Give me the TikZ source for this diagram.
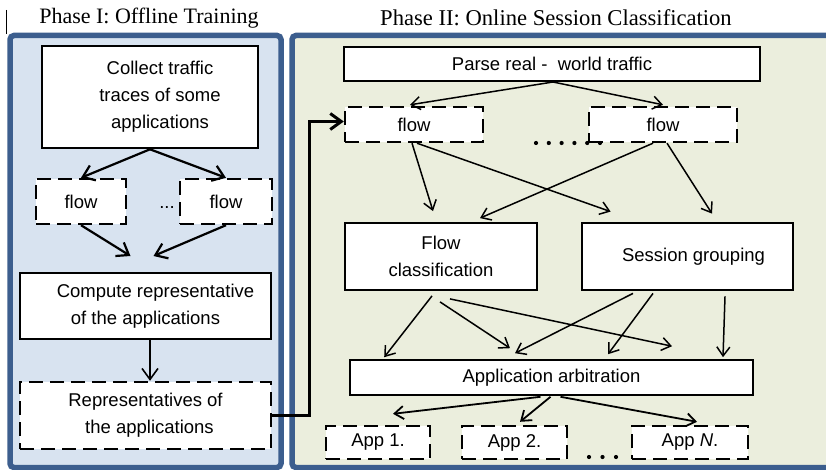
\documentclass[tikz,border=0pt]{standalone}
\usepackage{fontspec}
\setmainfont{Liberation Serif}
\setsansfont{Liberation Sans}
\usetikzlibrary{arrows.meta,calc}

\definecolor{panelblue}{HTML}{3C5E8E}
\definecolor{leftfill}{HTML}{D8E3F0}
\definecolor{rightfill}{HTML}{EBEEDD}

\tikzset{
  boxtext/.style={font=\sffamily\fontsize{18.5}{27}\selectfont, align=center, inner sep=0pt},
  solidbox/.style={boxtext, draw=black, fill=white, line width=2pt},
  dashbox/.style={boxtext, draw=black, fill=white, line width=2.4pt, dash pattern=on 14pt off 7pt},
  panel/.style={draw=panelblue, line width=5.5pt, rounded corners=4pt},
  title/.style={font=\rmfamily\fontsize{22}{26}\selectfont, inner sep=0pt},
  bigarrow/.style={line width=2.2pt, -{Straight Barb[length=11pt,width=16pt]}},
  thinarrow/.style={line width=1.5pt, -{Straight Barb[length=9pt,width=13pt]}},
}

\begin{document}
\begin{tikzpicture}[x=1pt,y=-1pt]
\useasboundingbox (0,0) rectangle (826,470);
\clip (0,0) rectangle (826,470);

% panels
\fill[white] (0,0) rectangle (826,470);
\draw[panel, fill=leftfill] (10,35.5) rectangle (281,467.5);
\draw[panel, fill=rightfill] (292,35.5) rectangle (840,467.5);
\draw[line width=1.2pt] (6.5,10) -- (6.5,34);

% titles
\node[title] (t1) at (149,18) {Phase I: Offline Training};
\node[title, font=\rmfamily\fontsize{22.6}{26}\selectfont] (t2) at (556,18) {Phase II: Online Session Classification};

% Phase I nodes
\node[solidbox, line width=2.6pt, minimum width=216, minimum height=102] (collect) at (150,97)
  {\hspace*{20pt}Collect traffic\\\hspace*{20pt}traces of some\\\hspace*{20pt}applications};
\node[dashbox, minimum width=90, minimum height=45] (fl1) at (81,201.5) {flow};
\node[dashbox, minimum width=92, minimum height=45] (fl2) at (226,201.5) {flow};
\node[boxtext] (ldots) at (167,208) {...};
\node[solidbox, minimum width=251, minimum height=66] (compute) at (145.5,306)
  {\hspace*{20pt}Compute representative\\of the applications};
\node[dashbox, minimum width=251, minimum height=67] (reps) at (145.5,415.5)
  {Representatives of\\\hspace*{8pt}the applications};

% Phase II nodes
\node[solidbox, minimum width=416, minimum height=34] (parse) at (552,64) {Parse real -\ \ world traffic};
\node[dashbox, minimum width=138, minimum height=35] (fr1) at (414,124.5) {flow};
\node[dashbox, minimum width=148, minimum height=35] (fr2) at (663,124.5) {flow};
\node[solidbox, line width=1.8pt, minimum width=192, minimum height=67] (fc) at (441,256.5)
  {Flow\\classification};
\node[solidbox, line width=2.8pt, minimum width=211, minimum height=67] (sg) at (687.5,256.5)
  {\hspace*{12pt}Session grouping};
\node[solidbox, line width=1.6pt, minimum width=403, minimum height=35] (arb) at (551.5,377.5)
  {Application arbitration};
\node[dashbox, minimum width=104, minimum height=33] (app1) at (378,442.5) {App 1.};
\node[dashbox, minimum width=105, minimum height=33] (app2) at (514.5,442.5) {App 2.};
\node[dashbox, minimum width=116, minimum height=33] (appN) at (690,442.5) {App \textit{N}.};

% dotted ellipses between flows and between applications
\foreach \i in {0,...,5} \fill (536+\i*12.8,143) circle (2.1);
\foreach \i in {0,...,2} \fill (589+\i*13.5,457) circle (2.1);

% Phase I connectors
\draw[bigarrow] (collect.south) -- (fl1.north);
\draw[bigarrow] (collect.south) -- (fl2.north);
\draw[bigarrow] (fl1.south) -- ($(compute.north)+(-15,-16)$);
\draw[bigarrow] (fl2.south) -- ($(compute.north)+(8,-16)$);
\draw[bigarrow, line width=1.6pt] ($(compute.south)+(4.5,0)$) -- ($(reps.north)+(4.5,0)$);
\draw[line width=3pt, -{Straight Barb[length=11pt,width=16pt]}]
  (reps.east) -- ++(37,0) |- ($(fr1.west)+(0,-3)$);

% Phase II connectors
\draw[thinarrow] ($(parse.south)+(1,0)$) -- ($(fr1.north)+(-4,-1)$);
\draw[thinarrow] ($(parse.south)+(1,0)$) -- ($(fr2.north)+(0,-1)$);
\draw[thinarrow] ($(fr1.south)+(-2,0)$) -- ($(fc.north)+(-8,-11)$);
\draw[thinarrow] ($(fr1.south)+(3,0)$) -- ($(sg.north west)+(30,-10)$);
\draw[thinarrow] ($(fr2.south)+(-10,0)$) -- ($(fc.north)+(39,-4)$);
\draw[thinarrow] ($(fr2.south)+(4,0)$) -- ($(sg.north)+(24.5,-8)$);

\draw[thinarrow] ($(fc.south)+(-9,5)$) -- ($(arb.north west)+(35,-2)$);
\draw[thinarrow] ($(fc.south)+(-1,11)$) -- ($(arb.north)+(-41.5,-11)$);
\draw[thinarrow] ($(fc.south)+(9,8)$) -- ($(arb.north)+(120.5,-13)$);
\draw[thinarrow] ($(sg.south)+(-54.5,2)$) -- ($(arb.north)+(-36.5,-6)$);
\draw[thinarrow] ($(sg.south)+(-34.5,2)$) -- ($(arb.north)+(56.5,-5)$);
\draw[thinarrow] ($(sg.south)+(37.5,5)$) -- ($(arb.north)+(171.5,-2)$);

\draw[thinarrow, line width=1.8pt] ($(arb.south)+(-11,1)$) -- ($(app1.north)+(15,-11)$);
\draw[thinarrow, line width=1.8pt] ($(arb.south)+(-1,1)$) -- ($(app2.north)+(5.5,-3)$);
\draw[thinarrow, line width=1.8pt] ($(arb.south)+(9,1)$) -- ($(appN.north)+(7,-3)$);
\end{tikzpicture}
\end{document}
